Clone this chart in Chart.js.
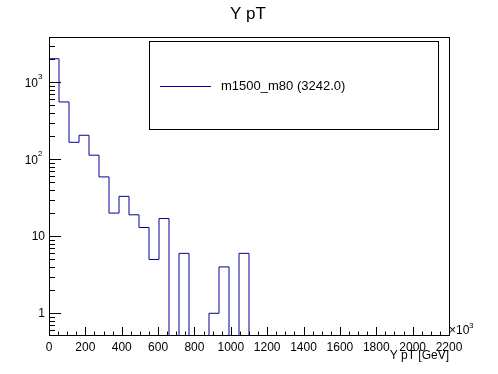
<!DOCTYPE html>
<html>
<head>
<meta charset="utf-8">
<title>Y pT</title>
<script src="https://cdn.jsdelivr.net/npm/chart.js@4/dist/chart.umd.min.js"></script>
<style>
    html, body { margin: 0; padding: 0; background: #fff; }
    #chart-ypt { display: block; }
</style>
</head>
<body>
<canvas id="chart-ypt" width="498" height="374"></canvas>
<script>
// Histogram: 40 bins of 55 GeV from 0 to 2200
const binEdges = [0, 55, 110, 165, 220, 275, 330, 385, 440, 495, 550, 605, 660, 715, 770, 825, 880, 935, 990, 1045,
    1100, 1155, 1210, 1265, 1320, 1375, 1430, 1485, 1540, 1595, 1650, 1705, 1760, 1815, 1870, 1925, 1980, 2035, 2090, 2145, 2200];
const binCounts = [2020, 555, 166, 205, 113, 59, 20, 33, 19, 13, 5, 17, 0, 6, 0, 0, 1, 4, 0, 6,
    0, 0, 0, 0, 0, 0, 0, 0, 0, 0, 0, 0, 0, 0, 0, 0, 0, 0, 0, 0];
const xTicks = [0, 200, 400, 600, 800, 1000, 1200, 1400, 1600, 1800, 2000, 2200];
const yTicks = [1, 10, 100, 1000];
const yTickBase = ['1', '10', '10', '10'];
const yTickExp = ['', '', '2', '3'];
const seriesLabel = 'm1500_m80 (3242.0)';

const Y_MIN = 0.507;
const Y_MAX = 3870;
const FONT = '"Liberation Sans", Arial, Helvetica, sans-serif';
const LINE_COLOR = '#000099';

// step points at the bin edges, empty bins sit on the axis floor
const points = binCounts.map((c, i) => ({ x: binEdges[i], y: c > 0 ? c : Y_MIN }));
points.push({ x: binEdges[binEdges.length - 1], y: points[points.length - 1].y });

// ROOT-like frame, inward ticks, title, legend and axis title
const rootDecor = {
    id: 'rootDecor',
    afterDraw(chart) {
        const ctx = chart.ctx;
        const area = chart.chartArea;
        const xs = chart.scales.x;
        const ys = chart.scales.y;

        ctx.save();
        ctx.strokeStyle = '#000';
        ctx.lineWidth = 1;

        // frame
        ctx.strokeRect(Math.round(area.left) + 0.5, Math.round(area.top) + 0.5,
            Math.round(area.right - area.left), Math.round(area.bottom - area.top) - 1);

        // x ticks (major 200, minor 50)
        ctx.beginPath();
        for (let v = 0; v <= 2200; v += 50) {
            const px = Math.round(xs.getPixelForValue(v)) + 0.5;
            const len = v % 200 === 0 ? 9 : 4.5;
            ctx.moveTo(px, area.bottom);
            ctx.lineTo(px, area.bottom - len);
        }
        // y ticks (major decades, minor 2..9)
        for (let d = -1; d <= 3; d++) {
            for (let m = 1; m <= 9; m++) {
                const v = m * Math.pow(10, d);
                if (v < Y_MIN || v > Y_MAX) continue;
                const py = Math.round(ys.getPixelForValue(v)) + 0.5;
                const len = m === 1 ? 12 : 6;
                ctx.moveTo(area.left, py);
                ctx.lineTo(area.left + len, py);
            }
        }
        ctx.stroke();

        ctx.fillStyle = '#000';
        ctx.textBaseline = 'middle';

        // y tick labels, powers of ten with a small exponent
        yTicks.forEach((v, i) => {
            const py = ys.getPixelForValue(v);
            ctx.textAlign = 'right';
            ctx.font = '12px ' + FONT;
            if (yTickExp[i]) {
                ctx.fillText(yTickBase[i], 38, py + 1);
                ctx.textAlign = 'left';
                ctx.font = '8px ' + FONT;
                ctx.fillText(yTickExp[i], 38, py - 5);
            } else {
                ctx.fillText(yTickBase[i], 45, py);
            }
        });

        // title
        ctx.font = '17px ' + FONT;
        ctx.textAlign = 'center';
        ctx.fillText('Y pT', 248, 14);

        // x axis title and exponent
        ctx.font = '12px ' + FONT;
        ctx.textAlign = 'right';
        ctx.fillText('Y pT [GeV]', area.right, 356);
        ctx.textAlign = 'left';
        ctx.fillText('\u00d710', area.right, 331);
        ctx.font = '8px ' + FONT;
        ctx.fillText('3', area.right + 20, 326);

        // legend
        ctx.strokeRect(149.5, 41.5, 289, 88);
        ctx.strokeStyle = LINE_COLOR;
        ctx.beginPath();
        ctx.moveTo(160, 86.5);
        ctx.lineTo(211, 86.5);
        ctx.stroke();
        ctx.font = '13px ' + FONT;
        ctx.textAlign = 'left';
        ctx.fillText(seriesLabel, 221, 86);

        ctx.restore();
    }
};

const chart = new Chart(document.getElementById('chart-ypt'), {
    type: 'line',
    data: {
        datasets: [{
            label: seriesLabel,
            data: points,
            stepped: 'before',
            borderColor: LINE_COLOR,
            borderWidth: 1,
            pointRadius: 0,
            fill: false
        }]
    },
    options: {
        responsive: false,
        animation: false,
        devicePixelRatio: 1,
        layout: { padding: { top: 37, right: 49, left: 0, bottom: 0 } },
        plugins: {
            legend: { display: false },
            title: { display: false },
            tooltip: { enabled: false }
        },
        scales: {
            x: {
                type: 'linear',
                min: 0,
                max: 2200,
                afterBuildTicks: (scale) => { scale.ticks = xTicks.map(v => ({ value: v })); },
                afterFit: (scale) => { scale.height = 38; },
                ticks: {
                    color: '#000',
                    font: { family: FONT, size: 12 },
                    padding: 4,
                    maxRotation: 0,
                    autoSkip: false,
                    callback: (v) => String(v)
                },
                grid: { display: false, drawTicks: false },
                border: { display: false }
            },
            y: {
                type: 'logarithmic',
                min: Y_MIN,
                max: Y_MAX,
                afterBuildTicks: (scale) => { scale.ticks = yTicks.map(v => ({ value: v })); },
                afterFit: (scale) => { scale.width = 49; },
                ticks: { display: false },
                grid: { display: false, drawTicks: false },
                border: { display: false }
            }
        }
    },
    plugins: [rootDecor]
});
window.chart = chart;
</script>
</body>
</html>
